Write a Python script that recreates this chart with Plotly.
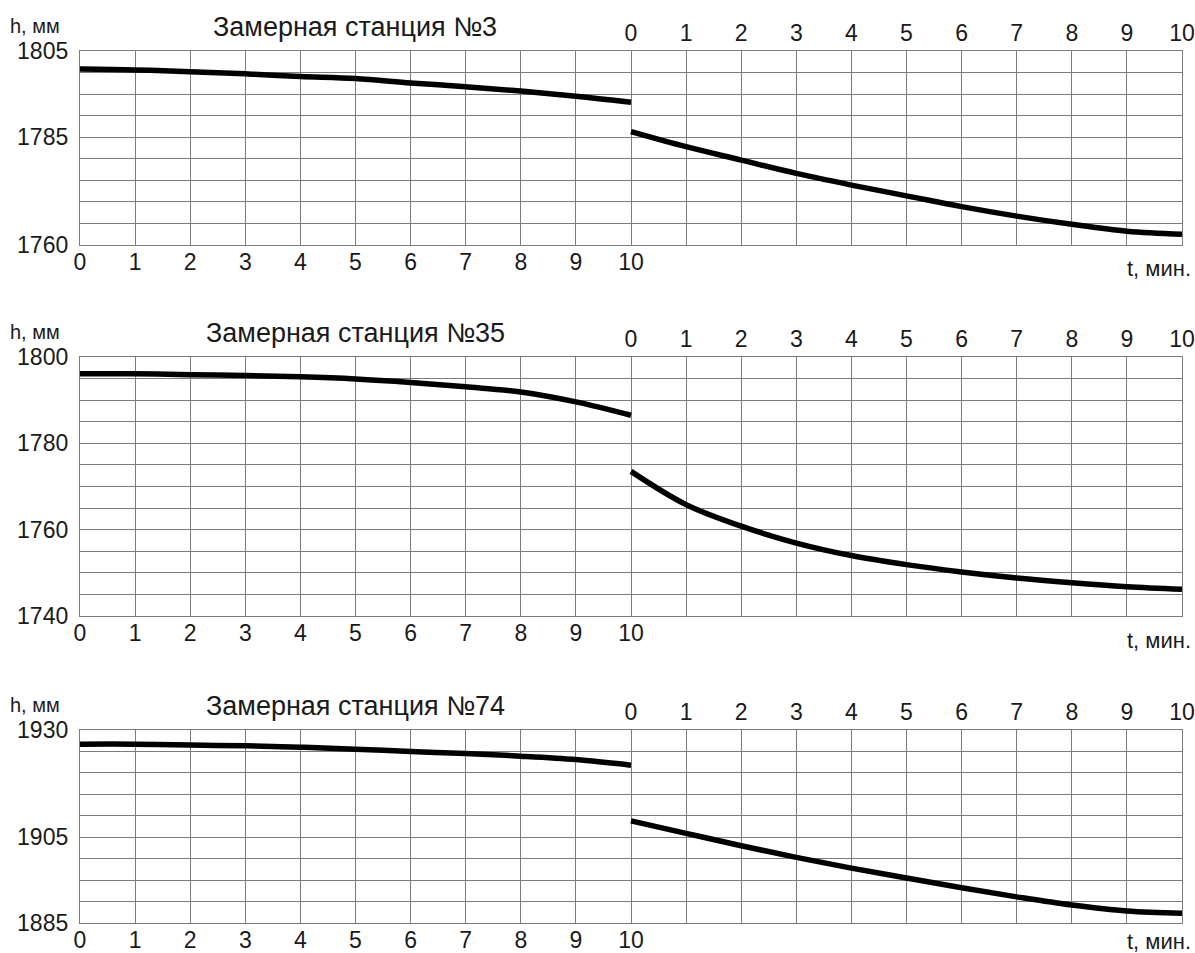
import plotly.graph_objects as go

W, H = 1195, 953

# time, minutes (before and after the event)
t_min = list(range(11))
t_labels = [str(v) for v in t_min]

stations = ["Замерная станция №3", "Замерная станция №35", "Замерная станция №74"]

# h, mm
st3_before = [1800.8, 1800.6, 1800.2, 1799.7, 1799.1, 1798.6, 1797.6, 1796.7, 1795.7, 1794.5, 1793.1]
st3_after = [1786.3, 1782.8, 1779.7, 1776.6, 1773.9, 1771.4, 1768.9, 1766.7, 1764.8, 1763.2, 1762.5]

st35_before = [1796.1, 1796.1, 1795.9, 1795.7, 1795.4, 1794.9, 1794.1, 1793.1, 1791.9, 1789.6, 1786.5]
st35_after = [1773.5, 1765.8, 1760.8, 1756.9, 1754.0, 1751.9, 1750.2, 1748.8, 1747.7, 1746.8, 1746.2]

st74_before = [1926.7, 1926.7, 1926.5, 1926.3, 1926.0, 1925.5, 1925.0, 1924.5, 1923.9, 1923.1, 1921.8]
st74_after = [1908.8, 1905.9, 1903.0, 1900.3, 1897.8, 1895.5, 1893.2, 1891.1, 1889.2, 1887.8, 1887.3]

# y-axis ranges and labelled ticks
y_ranges = [(1760, 1805), (1740, 1800), (1885, 1930)]
y_labels = [[1760, 1785, 1805], [1740, 1760, 1780, 1800], [1885, 1905, 1930]]
y_step = 5

before = [st3_before, st35_before, st74_before]
after = [st3_after, st35_after, st74_after]

# layout geometry (pixels)
ML, MR, MT, MB = 80, 13, 51, 30
PW, PH = W - ML - MR, H - MT - MB
panels_px = [(51, 245), (357, 616), (730, 923)]
unit_offsets = [23, 24, 18]


def py(p):
    return (H - MB - p) / PH


def px(p):
    return (p - ML) / PW


FONT = "Liberation Sans, Arial, sans-serif"
TXT = "#1a1a1a"
GRID = "#7c7c7c"
TICK_FONT = dict(size=23, family=FONT, color=TXT)

fig = go.Figure()
layout = dict(
    template="none",
    width=W, height=H,
    margin=dict(l=ML, r=MR, t=MT, b=MB, pad=0),
    paper_bgcolor="white", plot_bgcolor="white",
    showlegend=False,
    font=dict(family=FONT, color=TXT, size=21),
    annotations=[],
)

for i in range(3):
    n = i + 1
    xb = "x" if n == 1 else f"x{n}"
    yb = "y" if n == 1 else f"y{n}"
    xt_n = n + 3
    xt = f"x{xt_n}"
    top_px, bot_px = panels_px[i]
    dom = [py(bot_px), py(top_px)]

    fig.add_trace(go.Scatter(x=t_min, y=before[i], xaxis=xb, yaxis=yb, mode="lines",
                             line=dict(color="black", width=5.5, shape="spline"),
                             hoverinfo="skip"))
    fig.add_trace(go.Scatter(x=t_min, y=after[i], xaxis=xt, yaxis=yb, mode="lines",
                             line=dict(color="black", width=5.5, shape="spline"),
                             hoverinfo="skip"))

    grid_x = list(range(0, 21))
    lo, hi = y_ranges[i]
    grid_y = list(range(lo, hi + 1, y_step))

    layout[f"xaxis{'' if n == 1 else n}"] = dict(
        domain=[0, 1], anchor=yb, range=[0, 20], automargin=False,
        tickmode="array", tickvals=grid_x,
        ticktext=[str(v) if v <= 10 else "" for v in grid_x],
        showgrid=True, gridcolor=GRID, gridwidth=1.3,
        showline=True, linecolor=GRID, linewidth=1.3, mirror=True,
        zeroline=False, ticks="", ticklen=0, ticklabelstandoff=-4,
        tickfont=TICK_FONT,
        fixedrange=True,
    )
    layout[f"xaxis{xt_n}"] = dict(
        overlaying=xb, anchor=yb, side="top", range=[-10, 10], automargin=False,
        tickmode="array", tickvals=t_min, ticktext=t_labels,
        showgrid=False, zeroline=False, showline=False, ticks="",
        ticklabelstandoff=4,
        tickfont=TICK_FONT,
        fixedrange=True,
    )
    layout[f"yaxis{'' if n == 1 else n}"] = dict(
        domain=dom, anchor=xb, range=[lo, hi], automargin=False,
        tickmode="array", tickvals=grid_y,
        ticktext=[str(v) if v in y_labels[i] else "" for v in grid_y],
        showgrid=True, gridcolor=GRID, gridwidth=1.3,
        showline=True, linecolor=GRID, linewidth=1.3, mirror=True,
        zeroline=False, ticks="", ticklen=0, ticklabelstandoff=6,
        tickfont=TICK_FONT,
        fixedrange=True,
    )

    # title, y unit, x unit
    layout["annotations"].append(dict(
        text=stations[i], xref="paper", yref="paper",
        x=px(355), y=py(top_px - 24), xanchor="center", yanchor="middle",
        showarrow=False, font=dict(size=27, family=FONT, color=TXT)))
    layout["annotations"].append(dict(
        text="h, мм", xref="paper", yref="paper",
        x=px(8), y=py(top_px - 25), xanchor="left", yanchor="middle",
        showarrow=False, font=dict(size=20, family=FONT, color=TXT)))
    layout["annotations"].append(dict(
        text="t, мин.", xref="paper", yref="paper",
        x=px(1193), y=py(bot_px + unit_offsets[i]), xanchor="right", yanchor="middle",
        showarrow=False, font=dict(size=22, family=FONT, color=TXT)))

fig.update_layout(**layout)
fig.write_html("out.html",
               config={"displayModeBar": False},
               post_script="document.body.style.margin='0';document.body.style.overflow='hidden';")
